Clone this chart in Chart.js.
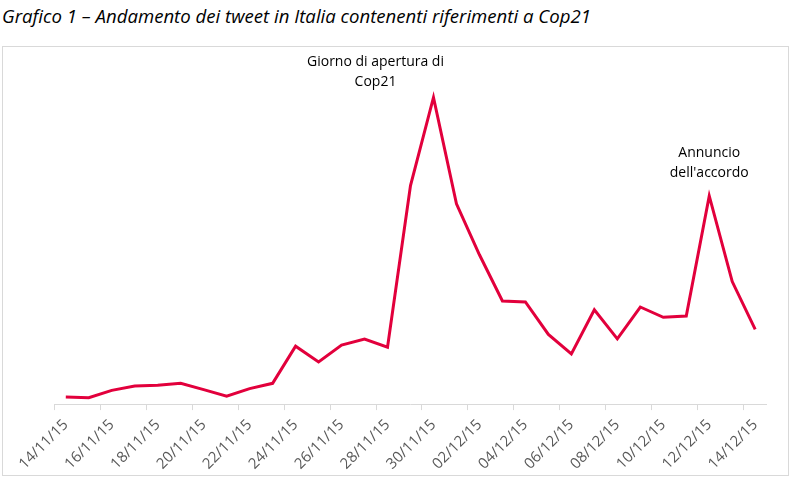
<!DOCTYPE html>
<html lang="it">
<head>
  <meta charset="UTF-8">
  <title>Grafico 1 - Tweet Cop21</title>
  <style>
    body {
      margin: 0;
      background: #fff;
    }
    #title {
      position: absolute;
      left: 2px;
      top: 3px;
      font: italic 18.6px "Open Sans", sans-serif;
      color: #000;
      white-space: nowrap;
    }
    #frame {
      position: absolute;
      left: 2px;
      top: 46px;
      width: 785px;
      height: 428px;
      border: 1px solid #d9d9d9;
    }
    #chart {
      position: absolute;
      left: 0;
      top: 0;
    }
  </style>
  <script src="https://cdn.jsdelivr.net/npm/chart.js"></script>
</head>
<body>
  <div id="title">Grafico 1 – Andamento dei tweet in Italia contenenti riferimenti a Cop21</div>
  <div id="frame"></div>
  <canvas id="chart" width="790" height="481"></canvas>

  <script>
    // giorni (una categoria per giorno)
    const dates = [
      '14/11/15', '15/11/15', '16/11/15', '17/11/15', '18/11/15', '19/11/15', '20/11/15',
      '21/11/15', '22/11/15', '23/11/15', '24/11/15', '25/11/15', '26/11/15', '27/11/15',
      '28/11/15', '29/11/15', '30/11/15', '01/12/15', '02/12/15', '03/12/15', '04/12/15',
      '05/12/15', '06/12/15', '07/12/15', '08/12/15', '09/12/15', '10/12/15', '11/12/15',
      '12/12/15', '13/12/15', '14/12/15'
    ];

    // numero di tweet (scala relativa)
    const tweets = [
      7, 6.4, 13.7, 18, 18.7, 20.7, 14.4,
      8, 15.4, 20.7, 57.7, 42, 58.7, 64.7,
      56.7, 217.7, 305.4, 199.4, 148.7, 102.7, 101.7,
      69.4, 50, 94, 65, 96.7, 86.4, 87.7,
      207.4, 122, 74.4
    ];

    const yMax = 340;

    // etichette sui picchi
    const notes = [
      { at: '30/11/15', lines: ['Giorno di apertura di', 'Cop21'], shift: -58, lift: 15 },
      { at: '12/12/15', lines: ['Annuncio', "dell'accordo"], shift: 0, lift: 23 }
    ];

    const notesPlugin = {
      id: 'notes',
      afterDatasetsDraw(chart) {
        const { ctx, scales } = chart;
        ctx.save();
        ctx.font = '14px "Open Sans", sans-serif';
        ctx.fillStyle = '#000';
        ctx.textAlign = 'center';
        ctx.textBaseline = 'middle';
        notes.forEach(n => {
          const i = dates.indexOf(n.at);
          const x = scales.x.getPixelForValue(i) + n.shift;
          const y = scales.y.getPixelForValue(tweets[i]) - n.lift;
          n.lines.forEach((line, k) => {
            ctx.fillText(line, x, y - (n.lines.length - 1 - k) * 20);
          });
        });
        ctx.restore();
      }
    };

    new Chart(document.getElementById('chart'), {
      type: 'line',
      data: {
        labels: dates,
        datasets: [{
          data: tweets,
          borderColor: '#E2003C',
          borderWidth: 3,
          pointRadius: 0,
          tension: 0,
          fill: false
        }]
      },
      options: {
        responsive: false,
        animation: false,
        layout: {
          padding: { top: 62.7, left: 54.3, right: 23.3, bottom: 2 }
        },
        plugins: {
          legend: { display: false },
          tooltip: { enabled: false }
        },
        scales: {
          x: {
            offset: true,
            grid: {
              offset: true,
              drawOnChartArea: false,
              tickLength: 6,
              color: c => (c.index % 2 === 0 ? '#d9d9d9' : 'rgba(0,0,0,0)')
            },
            border: { color: '#d9d9d9' },
            ticks: {
              autoSkip: false,
              maxRotation: 45,
              minRotation: 45,
              padding: 6,
              color: '#595959',
              font: { family: '"Open Sans", sans-serif', size: 15 },
              callback: (v, i) => (i % 2 === 0 ? dates[i] : '')
            }
          },
          y: {
            display: false,
            min: 0,
            max: yMax
          }
        }
      },
      plugins: [notesPlugin]
    });
  </script>
</body>
</html>
